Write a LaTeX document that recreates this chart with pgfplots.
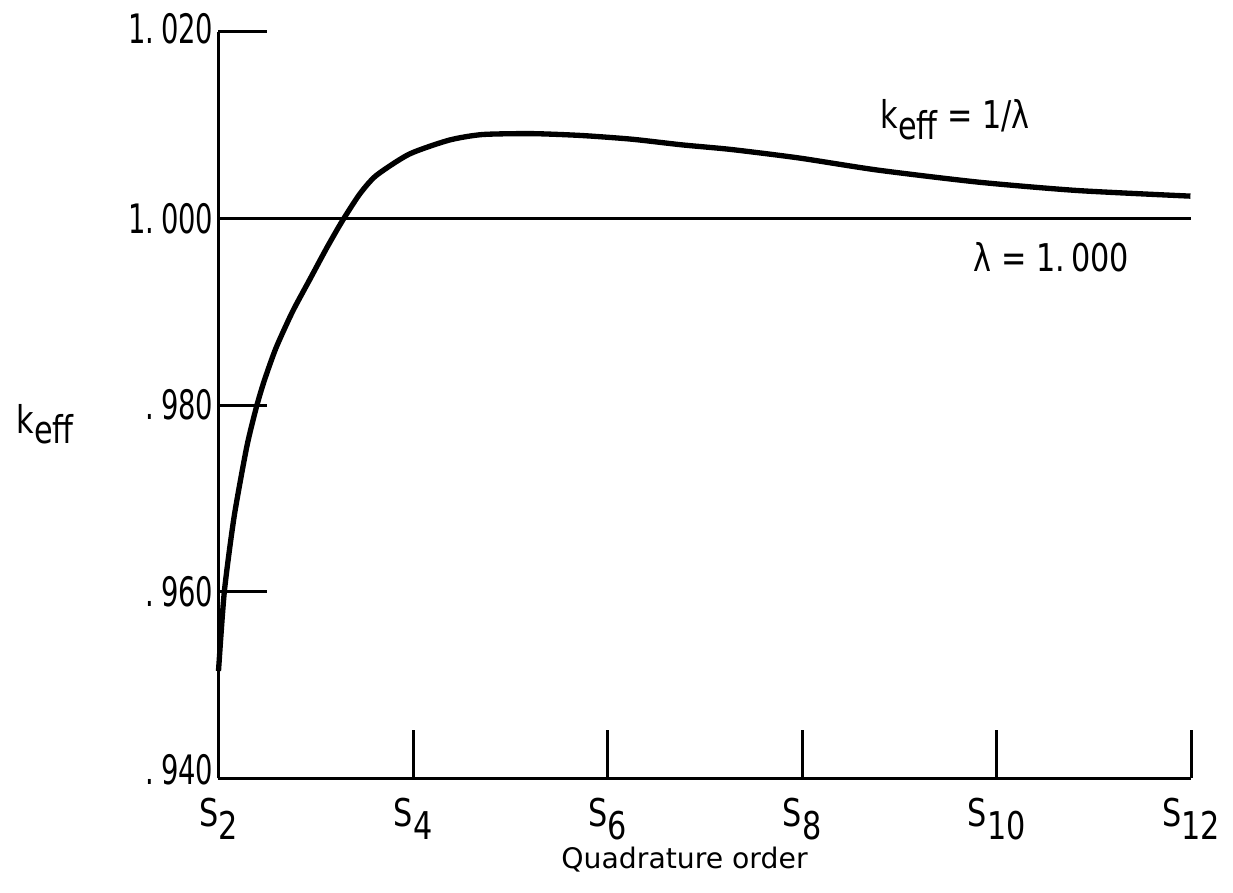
\documentclass[border=0pt]{standalone}
\usepackage{fontspec}
\setmainfont{DejaVu Sans Condensed}[FakeStretch=0.88]
\newfontfamily\ytickfont{DejaVu Sans Condensed}[FakeStretch=0.75]
\newfontfamily\labelfont{DejaVu Sans}
\usepackage{pgfplots}
\pgfplotsset{compat=1.18}
\newcommand\Ss[1]{S\raisebox{-0.6ex}{#1}}
\begin{document}
\fontsize{11.5}{13}\selectfont
\begin{tikzpicture}
\begin{axis}[
  width=292.5pt, height=224.4pt, scale only axis,
  xmin=2, xmax=12, ymin=0.94, ymax=1.02,
  axis x line*=bottom, axis y line*=left,
  axis line style={line width=0.9pt, -},
  xtick={2,4,6,8,10,12},
  xticklabels={\Ss{2},\Ss{4},\Ss{6},\Ss{8},\Ss{10},\Ss{12}},
  xticklabel style={yshift=-2pt},
  ytick={0.94,0.96,0.98,1.00,1.02},
  yticklabels={\raisebox{0.45em}{.\,940},.\,960,.\,980,1.\,000,\raisebox{0.15em}{1.\,020}},
  yticklabel style={font=\ytickfont\fontsize{12.2}{14}\selectfont, xshift=2.5pt},
  tick align=inside, major tick length=14.5pt,
  tick style={line width=0.9pt, black},
  clip=false,
]
\path (rel axis cs:-0.2246,-0.1524) rectangle (rel axis cs:1.0400,1.0428);
\addplot[black, line width=0.9pt] coordinates {(2,1.000) (12,1.000)};
\addplot[black, line width=1.6pt, smooth, tension=0.4] coordinates {
(2.00,0.9515) (2.06,0.9600) (2.16,0.9680) (2.29,0.9755) (2.39,0.9798)
(2.47,0.9826) (2.59,0.9861) (2.76,0.9900) (2.94,0.9935) (3.11,0.9968)
(3.27,0.9997) (3.45,1.0026) (3.62,1.0046) (3.96,1.0069) (4.37,1.0084)
(4.71,1.0090) (5.22,1.0091) (5.73,1.0089) (6.25,1.0085)
(6.76,1.0079) (7.27,1.0074) (7.96,1.0065) (8.77,1.0052) (9.81,1.0039)
(10.83,1.0030) (11.99,1.0024)
};
\node at (rel axis cs:-0.178,0.4746) {k\raisebox{-0.5ex}{eff}};
\node at (axis cs:9.57,1.0106) {k\raisebox{-0.5ex}{eff} = 1/λ};
\node at (axis cs:10.56,0.9959) {λ = 1.\,000};
\node[font=\labelfont\fontsize{8.5}{10}\selectfont] at (axis cs:6.79,0.9313) {Quadrature order};
\end{axis}
\end{tikzpicture}
\end{document}
